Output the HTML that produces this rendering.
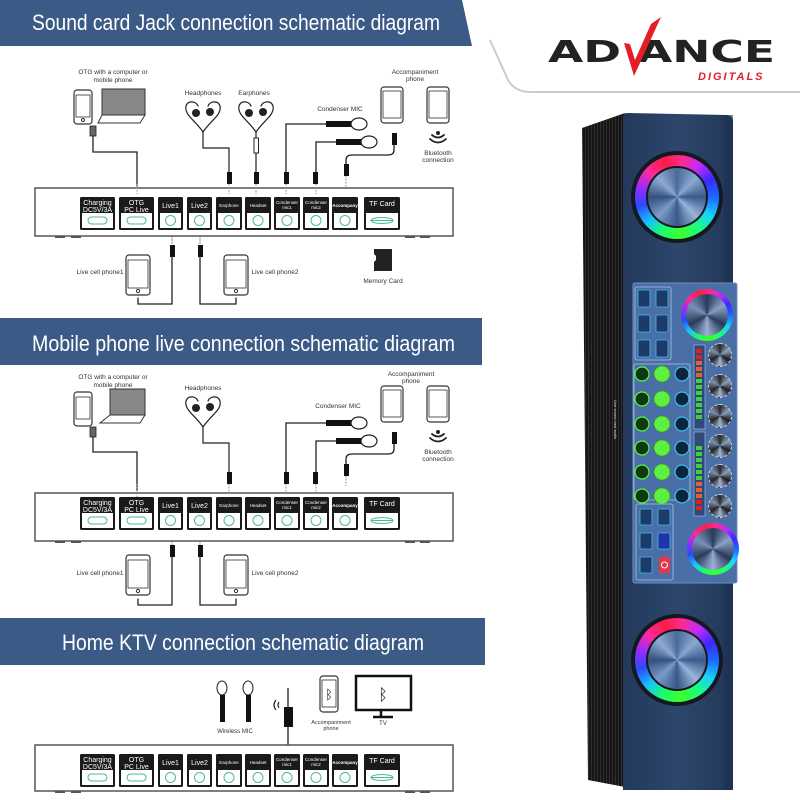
<!DOCTYPE html>
<html><head><meta charset="utf-8"><style>
html,body{margin:0;padding:0;background:#fff;width:800px;height:800px;overflow:hidden;position:relative}
svg{position:absolute;left:0;top:0}
.ring{position:absolute;border-radius:50%;background:conic-gradient(from -20deg,#ff1a4a,#ff2a8a,#c02aff,#3a2aff,#1a6aff,#1ad0ff,#1aff7a,#3aff2a,#1aff6a,#1ac0ff,#2a4aff,#9a2aff,#ff2a9a,#ff1a4a)}
.knob{position:absolute;border-radius:50%;background:conic-gradient(#4a6a9a,#8aa8d0,#3a5a8a,#9ab4da,#3a5888,#7a9ac8,#34507e,#8eaad4,#4a6a9a)}
.sk{position:absolute;border-radius:50%;background:conic-gradient(#2a2a2a,#8aa0c0,#1a1a1a,#a0b6d4,#222,#7a90b0,#2a2a2a);border:1px dashed #ccd}
</style></head><body>
<svg width="800" height="800" viewBox="0 0 800 800" font-family="'Liberation Sans',sans-serif">
<defs>
<pattern id="grille" width="3" height="3" patternUnits="userSpaceOnUse"><rect width="3" height="3" fill="#161616"/><rect width="1" height="3" fill="#2e2e2e"/></pattern>
<linearGradient id="front" x1="0" x2="1"><stop offset="0" stop-color="#22395a"/><stop offset="0.5" stop-color="#2d466c"/><stop offset="1" stop-color="#223858"/></linearGradient>
</defs>
<!-- logo area -->
<path d="M470,0 L800,0 L800,92 L530,92 Q515,92 508,80 L478,14 Z" fill="#fff"/>
<path d="M490,40 L508,80 Q515,92 530,92 L800,92" fill="none" stroke="#ccc" stroke-width="2"/>
<text x="548" y="62" font-size="30" font-weight="bold" fill="#222" textLength="227" lengthAdjust="spacingAndGlyphs" font-family="'DejaVu Sans',sans-serif">AD ANCE</text>
<path d="M624,43 L634,76 L661,17 L651,24 L635,60 L630,44 Z" fill="#e41e26"/>
<text x="698" y="80" font-size="11" font-weight="bold" font-style="italic" fill="#e41e26" letter-spacing="2">DIGITALS</text>
<!-- headers -->
<path d="M0,0 H462 L472,46 H0 Z" fill="#3b5a86"/>
<text x="32" y="30" font-size="22" fill="#fff" font-family="'Liberation Sans Narrow','Liberation Sans',sans-serif" textLength="408" lengthAdjust="spacingAndGlyphs">Sound card Jack connection schematic diagram</text>
<rect x="0" y="318" width="482" height="47" fill="#3b5a86"/>
<text x="32" y="351" font-size="22" fill="#fff" font-family="'Liberation Sans Narrow','Liberation Sans',sans-serif" textLength="423" lengthAdjust="spacingAndGlyphs">Mobile phone live connection schematic diagram</text>
<rect x="0" y="618" width="485" height="47" fill="#3b5a86"/>
<text x="62" y="650" font-size="22" fill="#fff" font-family="'Liberation Sans Narrow','Liberation Sans',sans-serif" textLength="362" lengthAdjust="spacingAndGlyphs">Home KTV connection schematic diagram</text>

<!-- ===== DIAGRAM 1 ===== -->
<g id="d1" stroke-linecap="round">
<text x="113" y="74" font-size="6.5" text-anchor="middle" fill="#333">OTG with a computer or</text>
<text x="113" y="82" font-size="6.5" text-anchor="middle" fill="#333">mobile phone</text>
<rect x="74" y="90" width="18" height="34" rx="3" fill="#fff" stroke="#333" stroke-width="1.2"/><rect x="76" y="95" width="14" height="22" fill="none" stroke="#333" stroke-width=".8"/><circle cx="83" cy="120" r="1.5" fill="none" stroke="#333"/>
<rect x="102" y="89" width="43" height="26" fill="#888" stroke="#333"/><path d="M102,115 L145,115 L140,123 L98,123 Z" fill="#fff" stroke="#333"/>
<rect x="90" y="126" width="6" height="10" fill="#666" stroke="#222" stroke-width=".8"/>
<path d="M93,136 V152 H137 V186" fill="none" stroke="#222" stroke-width="1.3"/>
<text x="203" y="95" font-size="6.5" text-anchor="middle" fill="#333">Headphones</text>
<text x="254" y="95" font-size="6.5" text-anchor="middle" fill="#333">Earphones</text>
<path d="M203,132 C195,120 184,115 186,106 C188,100 196,101 198,106 M203,132 C211,120 222,115 220,106 C218,100 210,101 208,106" fill="none" stroke="#222" stroke-width="1.2"/>
<circle cx="196" cy="113" r="4" fill="#222"/><circle cx="210" cy="112" r="4" fill="#222"/>
<path d="M203,132 V148 H229 V172" fill="none" stroke="#222" stroke-width="1.2"/>
<rect x="227" y="172" width="5" height="12" fill="#111"/>
<path d="M256,132 C248,120 237,115 239,106 C241,100 249,101 251,106 M256,132 C264,120 275,115 273,106 C271,100 263,101 261,106" fill="none" stroke="#222" stroke-width="1.2"/>
<circle cx="249" cy="113" r="4" fill="#222"/><circle cx="263" cy="112" r="4" fill="#222"/>
<path d="M256,132 V172" stroke="#222" stroke-width="1.2"/><rect x="254" y="138" width="4.5" height="15" fill="#fff" stroke="#222"/>
<rect x="254" y="172" width="5" height="12" fill="#111"/>
<text x="340" y="111" font-size="6.5" text-anchor="middle" fill="#333">Condenser MIC</text>
<path d="M286,172 V124 H326" fill="none" stroke="#222" stroke-width="1.3"/>
<rect x="326" y="121" width="26" height="6" fill="#111"/><ellipse cx="359" cy="124" rx="8" ry="6" fill="#fff" stroke="#222" stroke-width="1.2"/>
<rect x="284" y="172" width="5" height="12" fill="#111"/>
<path d="M316,172 V142 H336" fill="none" stroke="#222" stroke-width="1.3"/>
<rect x="336" y="139" width="26" height="6" fill="#111"/><ellipse cx="369" cy="142" rx="8" ry="6" fill="#fff" stroke="#222" stroke-width="1.2"/>
<rect x="313" y="172" width="5" height="12" fill="#111"/>
<text x="415" y="74" font-size="6.5" text-anchor="middle" fill="#333">Accompaniment</text>
<text x="415" y="81" font-size="6.5" text-anchor="middle" fill="#333">phone</text>
<rect x="381" y="87" width="22" height="36" rx="3" fill="#fff" stroke="#333" stroke-width="1.2"/><rect x="383" y="91" width="18" height="27" fill="none" stroke="#333" stroke-width=".8"/>
<rect x="427" y="87" width="22" height="36" rx="3" fill="#fff" stroke="#333" stroke-width="1.2"/><rect x="429" y="91" width="18" height="27" fill="none" stroke="#333" stroke-width=".8"/>
<rect x="392" y="133" width="5" height="12" fill="#111"/>
<path d="M394,145 V150 Q394,155 388,155 H352 Q346,155 346,160 V165" fill="none" stroke="#222" stroke-width="1.3"/>
<rect x="344" y="164" width="5" height="12" fill="#111"/>
<path d="M432,135 Q438,140 444,135 M430,139 Q438,146 446,139" fill="none" stroke="#222" stroke-width="1.8"/><circle cx="438" cy="133" r="2" fill="#222"/>
<text x="438" y="155" font-size="6.5" text-anchor="middle" fill="#333">Bluetooth</text>
<text x="438" y="162" font-size="6.5" text-anchor="middle" fill="#333">connection</text>
<path d="M172,236 V245 M200,236 V245" stroke="#888" stroke-dasharray="1.5,1.5"/>
<rect x="170" y="245" width="5" height="12" fill="#111"/><rect x="198" y="245" width="5" height="12" fill="#111"/>
<path d="M172,257 V304 H138 V298 M200,257 V304 H236 V298" fill="none" stroke="#222" stroke-width="1.3"/>
<rect x="126" y="255" width="24" height="40" rx="3" fill="#fff" stroke="#333" stroke-width="1.2"/><rect x="128" y="260" width="20" height="28" fill="none" stroke="#333" stroke-width=".8"/><circle cx="138" cy="291" r="1.6" fill="none" stroke="#333"/>
<rect x="224" y="255" width="24" height="40" rx="3" fill="#fff" stroke="#333" stroke-width="1.2"/><rect x="226" y="260" width="20" height="28" fill="none" stroke="#333" stroke-width=".8"/><circle cx="236" cy="291" r="1.6" fill="none" stroke="#333"/>
<text x="100" y="274" font-size="6.5" text-anchor="middle" fill="#333">Live cell phone1</text>
<text x="275" y="274" font-size="6.5" text-anchor="middle" fill="#333">Live cell phone2</text>
<path d="M374,249 H392 V271 H374 V262 L376,260 V256 L374,254 Z" fill="#222"/>
<text x="383" y="283" font-size="6.5" text-anchor="middle" fill="#333">Memory Card</text>
</g>

<!-- ===== DIAGRAM 2 ===== -->
<g transform="translate(0,305)" stroke-linecap="round">
<text x="113" y="74" font-size="6.5" text-anchor="middle" fill="#333">OTG with a computer or</text>
<text x="113" y="82" font-size="6.5" text-anchor="middle" fill="#333">mobile phone</text>
<rect x="74" y="87" width="18" height="34" rx="3" fill="#fff" stroke="#333" stroke-width="1.2"/><rect x="76" y="92" width="14" height="22" fill="none" stroke="#333" stroke-width=".8"/>
<rect x="110" y="84" width="35" height="26" fill="#888" stroke="#333"/><path d="M110,110 L145,110 L140,118 L100,118 Z" fill="#fff" stroke="#333"/>
<rect x="90" y="122" width="6" height="10" fill="#666" stroke="#222" stroke-width=".8"/>
<path d="M93,132 V147 H137 V186" fill="none" stroke="#222" stroke-width="1.3"/>
<text x="203" y="85" font-size="6.5" text-anchor="middle" fill="#333">Headphones</text>
<path d="M203,122 C195,110 184,105 186,96 C188,90 196,91 198,96 M203,122 C211,110 222,105 220,96 C218,90 210,91 208,96" fill="none" stroke="#222" stroke-width="1.2"/>
<circle cx="196" cy="103" r="4" fill="#222"/><circle cx="210" cy="102" r="4" fill="#222"/>
<path d="M203,122 V138 H229 V167" fill="none" stroke="#222" stroke-width="1.2"/>
<rect x="227" y="167" width="5" height="12" fill="#111"/>
<text x="338" y="103" font-size="6.5" text-anchor="middle" fill="#333">Condenser MIC</text>
<path d="M286,167 V118 H326" fill="none" stroke="#222" stroke-width="1.3"/>
<rect x="326" y="115" width="26" height="6" fill="#111"/><ellipse cx="359" cy="118" rx="8" ry="6" fill="#fff" stroke="#222" stroke-width="1.2"/>
<rect x="284" y="167" width="5" height="12" fill="#111"/>
<path d="M316,167 V136 H336" fill="none" stroke="#222" stroke-width="1.3"/>
<rect x="336" y="133" width="26" height="6" fill="#111"/><ellipse cx="369" cy="136" rx="8" ry="6" fill="#fff" stroke="#222" stroke-width="1.2"/>
<rect x="313" y="167" width="5" height="12" fill="#111"/>
<text x="411" y="71" font-size="6.5" text-anchor="middle" fill="#333">Accompaniment</text>
<text x="411" y="78" font-size="6.5" text-anchor="middle" fill="#333">phone</text>
<rect x="381" y="81" width="22" height="36" rx="3" fill="#fff" stroke="#333" stroke-width="1.2"/><rect x="383" y="85" width="18" height="27" fill="none" stroke="#333" stroke-width=".8"/>
<rect x="427" y="81" width="22" height="36" rx="3" fill="#fff" stroke="#333" stroke-width="1.2"/><rect x="429" y="85" width="18" height="27" fill="none" stroke="#333" stroke-width=".8"/>
<rect x="392" y="127" width="5" height="12" fill="#111"/>
<path d="M394,139 V144 Q394,149 388,149 H352 Q346,149 346,154 V160" fill="none" stroke="#222" stroke-width="1.3"/>
<rect x="344" y="159" width="5" height="12" fill="#111"/>
<path d="M432,129 Q438,134 444,129 M430,133 Q438,140 446,133" fill="none" stroke="#222" stroke-width="1.8"/><circle cx="438" cy="127" r="2" fill="#222"/>
<text x="438" y="149" font-size="6.5" text-anchor="middle" fill="#333">Bluetooth</text>
<text x="438" y="156" font-size="6.5" text-anchor="middle" fill="#333">connection</text>
<path d="M172,236 V240 M200,236 V240" stroke="#888" stroke-dasharray="1.5,1.5"/>
<rect x="170" y="240" width="5" height="12" fill="#111"/><rect x="198" y="240" width="5" height="12" fill="#111"/>
<path d="M172,252 V300 H138 V294 M200,252 V300 H236 V294" fill="none" stroke="#222" stroke-width="1.3"/>
<rect x="126" y="250" width="24" height="40" rx="3" fill="#fff" stroke="#333" stroke-width="1.2"/><rect x="128" y="255" width="20" height="28" fill="none" stroke="#333" stroke-width=".8"/><circle cx="138" cy="286" r="1.6" fill="none" stroke="#333"/>
<rect x="224" y="250" width="24" height="40" rx="3" fill="#fff" stroke="#333" stroke-width="1.2"/><rect x="226" y="255" width="20" height="28" fill="none" stroke="#333" stroke-width=".8"/><circle cx="236" cy="286" r="1.6" fill="none" stroke="#333"/>
<text x="100" y="270" font-size="6.5" text-anchor="middle" fill="#333">Live cell phone1</text>
<text x="275" y="270" font-size="6.5" text-anchor="middle" fill="#333">Live cell phone2</text>
</g>

<!-- ===== DIAGRAM 3 extras ===== -->
<g>
<ellipse cx="222" cy="688" rx="5" ry="7" fill="#fff" stroke="#222"/><rect x="220" y="695" width="5" height="27" fill="#111"/>
<ellipse cx="248" cy="688" rx="5" ry="7" fill="#fff" stroke="#222"/><rect x="246" y="695" width="5" height="27" fill="#111"/>
<text x="235" y="733" font-size="6" text-anchor="middle" fill="#333">Wireless MIC</text>
<path d="M288,688 V707 M288,727 V746" stroke="#222" stroke-width="1.3"/>
<rect x="284" y="707" width="9" height="20" fill="#111"/>
<path d="M276,700 Q272,705 276,710 M279,702 Q277,705 279,708" fill="none" stroke="#222" stroke-width="1.2"/>
<rect x="320" y="676" width="18" height="36" rx="3" fill="#fff" stroke="#333" stroke-width="1.2"/><rect x="322" y="680" width="14" height="27" fill="none" stroke="#333" stroke-width=".8"/>
<text x="329" y="699" font-size="13" text-anchor="middle" fill="#111" font-family="'DejaVu Sans',sans-serif">ᛒ</text>
<text x="331" y="724" font-size="5.5" text-anchor="middle" fill="#333">Accompaniment</text>
<text x="331" y="730" font-size="5.5" text-anchor="middle" fill="#333">phone</text>
<rect x="356" y="676" width="55" height="34" fill="#fff" stroke="#111" stroke-width="2.5"/>
<text x="383" y="700" font-size="16" text-anchor="middle" fill="#111" font-family="'DejaVu Sans',sans-serif">ᛒ</text>
<path d="M381,710 V716 M373,717 H393" stroke="#111" stroke-width="2.5"/>
<text x="383" y="725" font-size="6" text-anchor="middle" fill="#333">TV</text>
</g>

<!-- ===== BOXES ===== -->
<g id="boxes" font-family="'Liberation Sans Narrow','Liberation Sans',sans-serif">
<!-- box1 -->
<g transform="translate(0,0)">
<rect x="35" y="188" width="418" height="48" fill="#fff" stroke="#555" stroke-width="1.5"/>
<path d="M55,237H65M71,237H81M405,237H415M420,237H430" stroke="#555" stroke-width="2"/>
<path d="M137,184 V194 M229,184 V194 M256,184 V194 M286,184 V194 M316,184 V194 M346,176 V188" stroke="#888" stroke-dasharray="1.5,1.5"/>
<g fill="#1a1a1a"><rect x="80" y="197" width="35" height="33" rx="1.5"/><rect x="119" y="197" width="35" height="33" rx="1.5"/><rect x="158" y="197" width="25" height="33" rx="1.5"/><rect x="187" y="197" width="25" height="33" rx="1.5"/><rect x="216" y="197" width="26" height="33" rx="1.5"/><rect x="245" y="197" width="26" height="33" rx="1.5"/><rect x="274" y="197" width="26" height="33" rx="1.5"/><rect x="303" y="197" width="26" height="33" rx="1.5"/><rect x="332" y="197" width="26" height="33" rx="1.5"/><rect x="364" y="197" width="36" height="33" rx="1.5"/></g>
<g fill="#fff"><rect x="82" y="213" width="31" height="15"/><rect x="121" y="213" width="31" height="15"/><rect x="160" y="213" width="21" height="15"/><rect x="189" y="213" width="21" height="15"/><rect x="218" y="213" width="22" height="15"/><rect x="247" y="213" width="22" height="15"/><rect x="276" y="213" width="22" height="15"/><rect x="305" y="213" width="22" height="15"/><rect x="334" y="213" width="22" height="15"/><rect x="366" y="213" width="32" height="15"/></g>
<g fill="none" stroke="#4fb89a" stroke-width="1"><rect x="88" y="217" width="19" height="7" rx="3.5"/><rect x="127" y="217" width="19" height="7" rx="3.5"/><circle cx="170.5" cy="220.5" r="5"/><circle cx="199.5" cy="220.5" r="5"/><circle cx="229" cy="220.5" r="5"/><circle cx="258" cy="220.5" r="5"/><circle cx="287" cy="220.5" r="5"/><circle cx="316" cy="220.5" r="5"/><circle cx="345" cy="220.5" r="5"/><ellipse cx="382" cy="220.5" rx="11" ry="3"/><path d="M371,220.5 H393"/></g>
<g fill="#fff" text-anchor="middle"><text x="97.5" y="205" font-size="7">Charging</text><text x="97.5" y="212" font-size="7">DC5V/3A</text><text x="136.5" y="205" font-size="7">OTG</text><text x="136.5" y="212" font-size="7">PC Live</text><text x="170.5" y="208" font-size="7">Live1</text><text x="199.5" y="208" font-size="7">Live2</text><text x="229" y="207" font-size="4.5">Earphone</text><text x="258" y="207" font-size="4.5">Headset</text><text x="287" y="204" font-size="4.5">Condenser</text><text x="287" y="209" font-size="4.5">mic1</text><text x="316" y="204" font-size="4.5">Condenser</text><text x="316" y="209" font-size="4.5">mic2</text><text x="345" y="207" font-size="4.5" font-weight="bold">Accompany</text><text x="382" y="206" font-size="7">TF Card</text></g>
</g>
<!-- box2 -->
<g transform="translate(0,305)">
<rect x="35" y="188" width="418" height="48" fill="#fff" stroke="#555" stroke-width="1.5"/>
<path d="M55,237H65M71,237H81M405,237H415M420,237H430" stroke="#555" stroke-width="2"/>
<path d="M137,179 V194 M229,179 V188 M286,179 V188 M316,179 V188 M346,171 V181" stroke="#888" stroke-dasharray="1.5,1.5"/>
<g fill="#1a1a1a"><rect x="80" y="192" width="35" height="33" rx="1.5"/><rect x="119" y="192" width="35" height="33" rx="1.5"/><rect x="158" y="192" width="25" height="33" rx="1.5"/><rect x="187" y="192" width="25" height="33" rx="1.5"/><rect x="216" y="192" width="26" height="33" rx="1.5"/><rect x="245" y="192" width="26" height="33" rx="1.5"/><rect x="274" y="192" width="26" height="33" rx="1.5"/><rect x="303" y="192" width="26" height="33" rx="1.5"/><rect x="332" y="192" width="26" height="33" rx="1.5"/><rect x="364" y="192" width="36" height="33" rx="1.5"/></g>
<g fill="#fff"><rect x="82" y="208" width="31" height="15"/><rect x="121" y="208" width="31" height="15"/><rect x="160" y="208" width="21" height="15"/><rect x="189" y="208" width="21" height="15"/><rect x="218" y="208" width="22" height="15"/><rect x="247" y="208" width="22" height="15"/><rect x="276" y="208" width="22" height="15"/><rect x="305" y="208" width="22" height="15"/><rect x="334" y="208" width="22" height="15"/><rect x="366" y="208" width="32" height="15"/></g>
<g fill="none" stroke="#4fb89a" stroke-width="1"><rect x="88" y="212" width="19" height="7" rx="3.5"/><rect x="127" y="212" width="19" height="7" rx="3.5"/><circle cx="170.5" cy="215.5" r="5"/><circle cx="199.5" cy="215.5" r="5"/><circle cx="229" cy="215.5" r="5"/><circle cx="258" cy="215.5" r="5"/><circle cx="287" cy="215.5" r="5"/><circle cx="316" cy="215.5" r="5"/><circle cx="345" cy="215.5" r="5"/><ellipse cx="382" cy="215.5" rx="11" ry="3"/><path d="M371,215.5 H393"/></g>
<g fill="#fff" text-anchor="middle"><text x="97.5" y="200" font-size="7">Charging</text><text x="97.5" y="207" font-size="7">DC5V/3A</text><text x="136.5" y="200" font-size="7">OTG</text><text x="136.5" y="207" font-size="7">PC Live</text><text x="170.5" y="203" font-size="7">Live1</text><text x="199.5" y="203" font-size="7">Live2</text><text x="229" y="202" font-size="4.5">Earphone</text><text x="258" y="202" font-size="4.5">Headset</text><text x="287" y="199" font-size="4.5">Condenser</text><text x="287" y="204" font-size="4.5">mic1</text><text x="316" y="199" font-size="4.5">Condenser</text><text x="316" y="204" font-size="4.5">mic2</text><text x="345" y="202" font-size="4.5" font-weight="bold">Accompany</text><text x="382" y="201" font-size="7">TF Card</text></g>
</g>
<!-- box3 -->
<g transform="translate(0,557)">
<rect x="35" y="188" width="418" height="46" fill="#fff" stroke="#555" stroke-width="1.5"/>
<path d="M55,235H65M71,235H81M405,235H415M420,235H430" stroke="#555" stroke-width="2"/>
<g fill="#1a1a1a"><rect x="80" y="197" width="35" height="33" rx="1.5"/><rect x="119" y="197" width="35" height="33" rx="1.5"/><rect x="158" y="197" width="25" height="33" rx="1.5"/><rect x="187" y="197" width="25" height="33" rx="1.5"/><rect x="216" y="197" width="26" height="33" rx="1.5"/><rect x="245" y="197" width="26" height="33" rx="1.5"/><rect x="274" y="197" width="26" height="33" rx="1.5"/><rect x="303" y="197" width="26" height="33" rx="1.5"/><rect x="332" y="197" width="26" height="33" rx="1.5"/><rect x="364" y="197" width="36" height="33" rx="1.5"/></g>
<g fill="#fff"><rect x="82" y="213" width="31" height="15"/><rect x="121" y="213" width="31" height="15"/><rect x="160" y="213" width="21" height="15"/><rect x="189" y="213" width="21" height="15"/><rect x="218" y="213" width="22" height="15"/><rect x="247" y="213" width="22" height="15"/><rect x="276" y="213" width="22" height="15"/><rect x="305" y="213" width="22" height="15"/><rect x="334" y="213" width="22" height="15"/><rect x="366" y="213" width="32" height="15"/></g>
<g fill="none" stroke="#4fb89a" stroke-width="1"><rect x="88" y="217" width="19" height="7" rx="3.5"/><rect x="127" y="217" width="19" height="7" rx="3.5"/><circle cx="170.5" cy="220.5" r="5"/><circle cx="199.5" cy="220.5" r="5"/><circle cx="229" cy="220.5" r="5"/><circle cx="258" cy="220.5" r="5"/><circle cx="287" cy="220.5" r="5"/><circle cx="316" cy="220.5" r="5"/><circle cx="345" cy="220.5" r="5"/><ellipse cx="382" cy="220.5" rx="11" ry="3"/><path d="M371,220.5 H393"/></g>
<g fill="#fff" text-anchor="middle"><text x="97.5" y="205" font-size="7">Charging</text><text x="97.5" y="212" font-size="7">DC5V/3A</text><text x="136.5" y="205" font-size="7">OTG</text><text x="136.5" y="212" font-size="7">PC Live</text><text x="170.5" y="208" font-size="7">Live1</text><text x="199.5" y="208" font-size="7">Live2</text><text x="229" y="207" font-size="4.5">Earphone</text><text x="258" y="207" font-size="4.5">Headset</text><text x="287" y="204" font-size="4.5">Condenser</text><text x="287" y="209" font-size="4.5">mic1</text><text x="316" y="204" font-size="4.5">Condenser</text><text x="316" y="209" font-size="4.5">mic2</text><text x="345" y="207" font-size="4.5" font-weight="bold">Accompany</text><text x="382" y="206" font-size="7">TF Card</text></g>
</g>
</g>

<!-- ===== TOWER ===== -->
<path d="M582,128 L625,113 L625,787 L588,780 Z" fill="url(#grille)"/>
<path d="M623,117 Q623,113 628,113 L727,115 Q733,116 733,122 L733,790 L623,790 Z" fill="url(#front)"/>
<rect x="724" y="115" width="9" height="675" fill="#1d3150" opacity=".6"/>
<text transform="translate(614,400) rotate(90)" font-size="4" fill="#ddd">Live sound card audio</text>
<circle cx="677" cy="197" r="46" fill="#141820"/>
<circle cx="677" cy="660" r="46" fill="#141820"/>
<!-- control panel -->
<rect x="633" y="283" width="104" height="300" rx="2" fill="#4a6ea6" stroke="#6f90c0"/>
<rect x="635" y="287" width="36" height="73" rx="2" fill="none" stroke="#a8c4e8" stroke-width=".8"/>
<g fill="#1d3a68" stroke="#3ec0ea" stroke-width=".8">
<rect x="638" y="290" width="12" height="17" rx="1"/><rect x="656" y="290" width="12" height="17" rx="1"/>
<rect x="638" y="315" width="12" height="17" rx="1"/><rect x="656" y="315" width="12" height="17" rx="1"/>
<rect x="638" y="340" width="12" height="17" rx="1"/><rect x="656" y="340" width="12" height="17" rx="1"/>
</g>
<rect x="634" y="364" width="56" height="136" rx="2" fill="none" stroke="#a8c4e8" stroke-width=".8"/>
<g>
<g fill="#103810" stroke="#4eff40" stroke-width="1.2">
<circle cx="642" cy="374" r="7"/><circle cx="642" cy="399" r="7"/><circle cx="642" cy="424" r="7"/><circle cx="642" cy="448" r="7"/><circle cx="642" cy="472" r="7"/><circle cx="642" cy="496" r="7"/></g>
<g fill="#5ef040" stroke="#3aa030" stroke-width=".8">
<circle cx="662" cy="374" r="8"/><circle cx="662" cy="399" r="8"/><circle cx="662" cy="424" r="8"/><circle cx="662" cy="448" r="8"/><circle cx="662" cy="472" r="8"/><circle cx="662" cy="496" r="8"/></g>
<g fill="#0b2440" stroke="#3ec0ea" stroke-width="1.2">
<circle cx="682" cy="374" r="7"/><circle cx="682" cy="399" r="7"/><circle cx="682" cy="424" r="7"/><circle cx="682" cy="448" r="7"/><circle cx="682" cy="472" r="7"/><circle cx="682" cy="496" r="7"/></g>
</g>
<!-- VU meters -->
<rect x="694" y="345" width="11" height="84" fill="#2d4a7a" stroke="#a8c4e8" stroke-width=".6"/>
<rect x="694" y="432" width="11" height="84" fill="#2d4a7a" stroke="#a8c4e8" stroke-width=".6"/>
<g>
<rect x="696" y="349" width="6" height="4" fill="#e02020"/><rect x="696" y="355" width="6" height="4" fill="#e02020"/><rect x="696" y="361" width="6" height="4" fill="#e86030"/><rect x="696" y="367" width="6" height="4" fill="#e86030"/><rect x="696" y="373" width="6" height="4" fill="#e86030"/><rect x="696" y="379" width="6" height="4" fill="#40d040"/><rect x="696" y="385" width="6" height="4" fill="#40d040"/><rect x="696" y="391" width="6" height="4" fill="#40d040"/><rect x="696" y="397" width="6" height="4" fill="#40d040"/><rect x="696" y="403" width="6" height="4" fill="#40d040"/><rect x="696" y="409" width="6" height="4" fill="#40d040"/><rect x="696" y="415" width="6" height="4" fill="#40d040"/>
<rect x="696" y="446" width="6" height="4" fill="#40d040"/><rect x="696" y="452" width="6" height="4" fill="#40d040"/><rect x="696" y="458" width="6" height="4" fill="#40d040"/><rect x="696" y="464" width="6" height="4" fill="#40d040"/><rect x="696" y="470" width="6" height="4" fill="#40d040"/><rect x="696" y="476" width="6" height="4" fill="#40d040"/><rect x="696" y="482" width="6" height="4" fill="#e86030"/><rect x="696" y="488" width="6" height="4" fill="#e86030"/><rect x="696" y="494" width="6" height="4" fill="#e86030"/><rect x="696" y="500" width="6" height="4" fill="#e02020"/><rect x="696" y="506" width="6" height="4" fill="#e02020"/>
</g>
<!-- bottom buttons -->
<rect x="636" y="504" width="37" height="76" rx="2" fill="none" stroke="#a8c4e8" stroke-width=".8"/>
<g fill="#1d3a68" stroke="#3ec0ea" stroke-width=".8">
<rect x="640" y="509" width="12" height="16" rx="1"/><rect x="658" y="509" width="12" height="16" rx="1"/>
<rect x="640" y="533" width="12" height="16" rx="1"/><rect x="658" y="533" width="12" height="16" rx="1" fill="#2233aa"/>
<rect x="640" y="557" width="12" height="16" rx="1"/>
</g>
<rect x="659" y="557" width="11" height="16" rx="1.5" fill="#e83848"/>
<circle cx="664.5" cy="565" r="3" fill="none" stroke="#fff" stroke-width="1"/>
<rect x="630" y="790" width="0" height="0"/>
</svg>
<!-- speakers & knobs -->
<div class="ring" style="left:635px;top:155px;width:84px;height:84px"></div>
<div style="position:absolute;left:646px;top:166px;width:62px;height:62px;border-radius:50%;background:#141820"></div>
<div class="knob" style="left:648px;top:168px;width:58px;height:58px"></div>
<div class="ring" style="left:635px;top:618px;width:84px;height:84px"></div>
<div style="position:absolute;left:646px;top:629px;width:62px;height:62px;border-radius:50%;background:#141820"></div>
<div class="knob" style="left:648px;top:631px;width:58px;height:58px"></div>
<div class="ring" style="left:681px;top:289px;width:52px;height:52px"></div>
<div class="knob" style="left:686px;top:294px;width:42px;height:42px;background:conic-gradient(#2a3a5a,#8aa0c8,#2a3a5a,#9ab0d4,#2a3a5a,#7a90b8,#2a3a5a)"></div>
<div class="ring" style="left:687px;top:523px;width:52px;height:52px"></div>
<div class="knob" style="left:692px;top:528px;width:42px;height:42px;background:conic-gradient(#2a3a5a,#8aa0c8,#2a3a5a,#9ab0d4,#2a3a5a,#7a90b8,#2a3a5a)"></div>
<div class="sk" style="left:708px;top:343px;width:22px;height:22px"></div>
<div class="sk" style="left:708px;top:374px;width:22px;height:22px"></div>
<div class="sk" style="left:708px;top:404px;width:22px;height:22px"></div>
<div class="sk" style="left:708px;top:434px;width:22px;height:22px"></div>
<div class="sk" style="left:708px;top:464px;width:22px;height:22px"></div>
<div class="sk" style="left:708px;top:494px;width:22px;height:22px"></div>
</body></html>
